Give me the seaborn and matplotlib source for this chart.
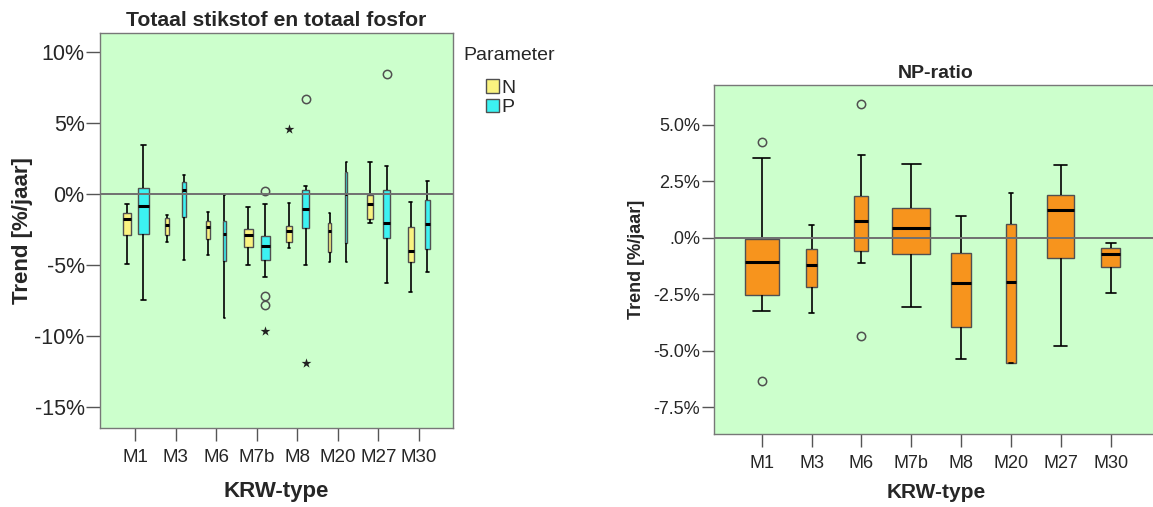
# Trends in stikstof/fosfor per KRW-type, twee boxplots naast elkaar

import matplotlib
matplotlib.use("Agg")
import matplotlib.pyplot as plt
import numpy as np
import seaborn as sns
from matplotlib.patches import Patch
from matplotlib.ticker import FuncFormatter

KRW_TYPES = ["M1", "M3", "M6", "M7b", "M8", "M20", "M27", "M30"]

# totaal stikstof (N), trend in %/jaar
N_LO = [-4.90, -3.36, -4.32, -4.98, -3.82, -4.77, -2.07, -6.92]
N_Q1 = [-2.89, -2.91, -3.19, -3.75, -3.40, -4.06, -1.78, -4.77]
N_MED = [-1.74, -2.16, -2.30, -2.91, -2.58, -2.63, -0.68, -4.01]
N_Q3 = [-1.36, -1.71, -1.88, -2.44, -2.23, -2.02, -0.07, -2.30]
N_HI = [-0.68, -1.45, -1.29, -0.89, -0.61, -1.34, 2.23, -0.54]
N_OUT = [[], [], [], [], [], [], [], []]
N_EXTREME = [[], [], [], [], [4.56], [], [], []]

# totaal fosfor (P)
P_LO = [-7.44, -4.67, -8.73, -5.87, -5.00, -4.81, -6.25, -5.47]
P_Q1 = [-2.84, -1.64, -4.74, -4.62, -2.42, -3.47, -3.12, -3.90]
P_MED = [-0.85, 0.26, -2.84, -3.69, -1.06, 0.00, -2.02, -2.09]
P_Q3 = [0.45, 0.85, -1.88, -2.96, 0.28, 1.57, 0.28, -0.44]
P_HI = [3.45, 1.34, -0.07, -0.73, 0.58, 2.27, 1.97, 0.92]
P_OUT = [[], [], [], [0.23, -7.20, -7.82], [6.71], [], [8.47], []]
P_EXTREME = [[], [], [], [-9.62], [-11.93], [], [], []]

# NP-ratio
NP_LO = [-3.26, -3.32, -1.12, -3.05, -5.35, -5.53, -4.79, -2.43]
NP_Q1 = [-2.54, -2.20, -0.59, -0.72, -3.94, -5.53, -0.91, -1.28]
NP_MED = [-1.09, -1.19, 0.74, 0.43, -1.99, -1.97, 1.23, -0.71]
NP_Q3 = [-0.06, -0.50, 1.86, 1.30, -0.69, 0.62, 1.88, -0.46]
NP_HI = [3.53, 0.55, 3.67, 3.26, 0.95, 1.96, 3.20, -0.23]
NP_OUT = [[4.22, -6.35], [], [5.92, -4.35], [], [], [], [], []]

# breedte van de boxen (SPSS schaalt met aantal meetpunten)
N_WIDTH = [0.20, 0.10, 0.09, 0.205, 0.125, 0.09, 0.165, 0.14]
P_WIDTH = [0.27, 0.10, 0.09, 0.22, 0.165, 0.06, 0.165, 0.125]
NP_WIDTH = [0.69, 0.21, 0.28, 0.755, 0.39, 0.19, 0.535, 0.395]

BG = "#CCFFCC"
YELLOW = "#FAF380"
CYAN = "#3CF2F2"
ORANGE = "#F7941D"
EDGE = "#505050"
GRID = "#707070"

sns.set_style("ticks")
plt.rcParams["font.family"] = ["Liberation Sans", "DejaVu Sans"]
plt.rcParams["axes.unicode_minus"] = False


def observations(lo, q1, med, q3, hi, outliers, reps=20):
    # waarnemingen die precies deze kwartielen en snorharen opleveren
    return [lo] + [q1] * reps + [med] * reps + [q3] * reps + [hi] + list(outliers)


def draw_box(ax, pos, width, color, lo, q1, med, q3, hi, outliers):
    obs = observations(lo, q1, med, q3, hi, outliers)
    sns.boxplot(
        x=np.full(len(obs), pos), y=obs, native_scale=True, orient="x",
        width=width, color=color, saturation=1, linecolor=EDGE, linewidth=1,
        fliersize=6, ax=ax,
        medianprops={"color": "black", "linewidth": 2.2},
        whiskerprops={"color": "black", "linewidth": 1.2},
        capprops={"color": "black", "linewidth": 1.2},
        flierprops={"marker": "o", "markerfacecolor": "none",
                    "markeredgecolor": EDGE, "markeredgewidth": 1.1},
    )


def style_axes(ax, xlim, ylim, yticks, fmt, tick_fs, ylen):
    ax.set_facecolor(BG)
    ax.axhline(0, color=GRID, linewidth=1.4, zorder=3)
    ax.set_xlim(*xlim)
    ax.set_ylim(*ylim)
    ax.set_xticks(range(len(KRW_TYPES)), KRW_TYPES)
    ax.set_yticks(yticks)
    ax.yaxis.set_major_formatter(FuncFormatter(fmt))
    for side in ["top", "bottom", "left", "right"]:
        ax.spines[side].set_color("#777777")
        ax.spines[side].set_linewidth(1.0)
    ax.tick_params(axis="x", length=9, width=1, color="#555555", pad=6,
                   labelsize=tick_fs[0])
    ax.tick_params(axis="y", length=ylen, width=1, color="#555555", pad=1,
                   labelsize=tick_fs[1])


fig = plt.figure(figsize=(11.53, 5.07), dpi=100)
ax1 = fig.add_axes([100 / 1153, 1 - 428 / 507, 353 / 1153, 395 / 507])
ax2 = fig.add_axes([714 / 1153, 1 - 434 / 507, 444 / 1153, 349 / 507])

# links: N en P naast elkaar
for i in range(len(KRW_TYPES)):
    draw_box(ax1, i - 0.205, N_WIDTH[i], YELLOW,
             N_LO[i], N_Q1[i], N_MED[i], N_Q3[i], N_HI[i], N_OUT[i])
    draw_box(ax1, i + 0.205, P_WIDTH[i], CYAN,
             P_LO[i], P_Q1[i], P_MED[i], P_Q3[i], P_HI[i], P_OUT[i])
    for pos, vals in [(i - 0.205, N_EXTREME[i]), (i + 0.205, P_EXTREME[i])]:
        if vals:
            sns.scatterplot(x=[pos] * len(vals), y=vals, marker="*", s=55,
                            color="#222222", linewidth=0, zorder=5,
                            legend=False, ax=ax1)

style_axes(ax1, (-0.863, 7.838), (-16.48, 11.34), [10, 5, 0, -5, -10, -15],
           lambda v, _: f"{v:.0f}%", (13.5, 15.5), 10)
ax1.set_title("Totaal stikstof en totaal fosfor", fontsize=15.2,
              fontweight="bold", pad=5)
ax1.set_xlabel("KRW-type", fontsize=16, fontweight="bold")
ax1.set_ylabel("Trend [%/jaar]", fontsize=16, fontweight="bold")
ax1.xaxis.set_label_coords(0.5, -0.135)
ax1.yaxis.set_label_coords(-0.19, 0.5)

fig.text(463 / 1153, 1 - 55 / 507, "Parameter", fontsize=14,
         ha="left", va="center")
handles = [Patch(facecolor=YELLOW, edgecolor=EDGE),
           Patch(facecolor=CYAN, edgecolor=EDGE)]
fig.legend(handles, ["N", "P"], loc="upper left",
           bbox_to_anchor=(486 / 1153, 1 - 79 / 507), frameon=False,
           fontsize=14, handlelength=0.65, handleheight=0.7,
           handletextpad=0.15, labelspacing=0.1, borderpad=0,
           borderaxespad=0)

# rechts: NP-ratio
for i in range(len(KRW_TYPES)):
    draw_box(ax2, i, NP_WIDTH[i], ORANGE,
             NP_LO[i], NP_Q1[i], NP_MED[i], NP_Q3[i], NP_HI[i], NP_OUT[i])


def np_fmt(v, _):
    s = f"{v:.1f}%"
    return ".0%" if s in ("0.0%", "-0.0%") else s


style_axes(ax2, (-0.957, 7.95), (-8.69, 6.76), [5, 2.5, 0, -2.5, -5, -7.5],
           np_fmt, (13, 13), 9)
ax2.set_title("NP-ratio", fontsize=14, fontweight="bold", pad=5)
ax2.set_xlabel("KRW-type", fontsize=15, fontweight="bold")
ax2.set_ylabel("Trend [%/jaar]", fontsize=13, fontweight="bold")
ax2.xaxis.set_label_coords(0.5, -0.14)
ax2.yaxis.set_label_coords(-0.155, 0.5)

fig.savefig("out.png", dpi=100)
